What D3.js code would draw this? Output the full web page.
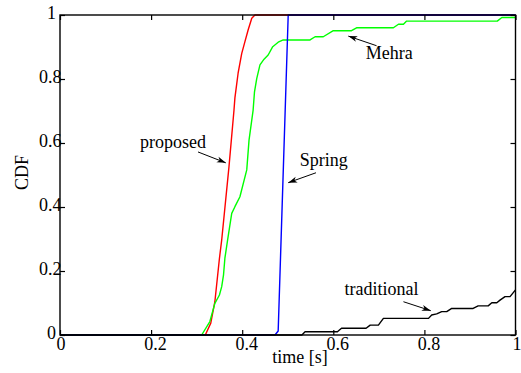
<!DOCTYPE html>
<html>
<head>
<meta charset="utf-8">
<script src="https://cdn.jsdelivr.net/npm/d3@7"></script>
<style>
  html, body { margin: 0; padding: 0; background: #fff; }
  svg { display: block; }
  svg text { font-family: "Liberation Serif", "Times New Roman", "DejaVu Serif", serif; fill: #000; }
</style>
</head>
<body>
<svg id="chart" width="521" height="373"></svg>
<script>
// CDF of completion time for four schemes (time in seconds)
const proposedT = [0, 0.319, 0.331, 0.340, 0.350, 0.355, 0.371, 0.382, 0.384, 0.391, 0.399, 0.406, 0.413, 0.421, 0.428, 1];
const proposedV = [0, 0, 0.037, 0.104, 0.239, 0.297, 0.526, 0.703, 0.741, 0.818, 0.880, 0.917, 0.953, 0.990, 1, 1];

const mehraT = [0, 0.311, 0.329, 0.340, 0.350, 0.355, 0.359, 0.362, 0.368, 0.377, 0.384, 0.395, 0.410, 0.415, 0.424, 0.427, 0.432, 0.439, 0.448, 0.457, 0.467, 0.479, 0.490, 0.549, 0.560, 0.578, 0.600, 0.640, 0.651, 0.732, 0.743, 0.754, 0.761, 0.960, 0.970, 1];
const mehraV = [0, 0, 0.042, 0.099, 0.125, 0.151, 0.188, 0.240, 0.297, 0.380, 0.401, 0.432, 0.516, 0.609, 0.703, 0.760, 0.802, 0.844, 0.862, 0.875, 0.901, 0.915, 0.922, 0.922, 0.932, 0.932, 0.951, 0.951, 0.960, 0.960, 0.971, 0.971, 0.981, 0.981, 0.992, 0.992];

const springT = [0, 0.472, 0.479, 0.501, 1];
const springV = [0, 0, 0.0125, 1, 1];

const traditionalT = [0, 0.531, 0.538, 0.609, 0.618, 0.672, 0.681, 0.699, 0.710, 0.809, 0.816, 0.827, 0.838, 0.849, 0.860, 0.907, 0.918, 0.940, 0.948, 0.959, 0.966, 0.977, 0.988, 1];
const traditionalV = [0, 0, 0.010, 0.010, 0.021, 0.021, 0.031, 0.031, 0.052, 0.052, 0.0625, 0.066, 0.073, 0.073, 0.083, 0.083, 0.091, 0.091, 0.101, 0.101, 0.109, 0.120, 0.120, 0.141];

const xTicks = [0, 0.2, 0.4, 0.6, 0.8, 1];
const yTicks = [0, 0.2, 0.4, 0.6, 0.8, 1];
const xTitle = "time [s]";
const yTitle = "CDF";

const series = [
  { name: "proposed", t: proposedT, v: proposedV, color: "#ff0000" },
  { name: "Mehra", t: mehraT, v: mehraV, color: "#00ff00" },
  { name: "Spring", t: springT, v: springV, color: "#0000ff" },
  { name: "traditional", t: traditionalT, v: traditionalV, color: "#000000" }
];

// Text callouts with arrows, placed in data units
const callouts = [
  { text: "proposed",    tx: 0.248, ty: 0.584, from: [0.303, 0.572], to: [0.364, 0.538] },
  { text: "Spring",      tx: 0.579, ty: 0.529, from: [0.562, 0.507], to: [0.501, 0.476] },
  { text: "Mehra",       tx: 0.723, ty: 0.862, from: [0.695, 0.904], to: [0.633, 0.934] },
  { text: "traditional", tx: 0.706, ty: 0.125, from: [0.754, 0.104], to: [0.814, 0.076] }
];

const FONT = '"Liberation Serif", "Times New Roman", serif';
const svg = d3.select("#chart");
const plotL = 60, plotR = 515.5, plotT = 15, plotB = 335;
const x = d3.scaleLinear().domain([0, 1]).range([plotL, plotR]);
const y = d3.scaleLinear().domain([0, 1]).range([plotB, plotT]);

const defs = svg.append("defs");
defs.append("marker")
  .attr("id", "head")
  .attr("markerUnits", "userSpaceOnUse")
  .attr("viewBox", "-10 -5 12 10")
  .attr("refX", 0).attr("refY", 0)
  .attr("markerWidth", 12).attr("markerHeight", 10)
  .attr("orient", "auto")
  .append("path")
  .attr("d", "M0,0 L-9,-3 L-6.5,0 L-9,3 Z")
  .attr("fill", "#000");

// Curves
const line = d3.line().x(d => x(d[0])).y(d => y(d[1]));
svg.append("g").selectAll("path")
  .data(series)
  .join("path")
  .attr("d", s => line(s.t.map((t, i) => [t, s.v[i]])))
  .attr("fill", "none")
  .attr("stroke", s => s.color)
  .attr("stroke-width", 1.4)
  .attr("stroke-linejoin", "round");

// Axes box with inward ticks on every side
const tickLen = 5;
const fmt = d3.format("");
const decimal = d => d > 0 && d < 1;

const gx = svg.append("g").attr("transform", `translate(0,${plotB})`)
  .call(d3.axisBottom(x).tickValues(xTicks).tickSizeInner(-tickLen).tickSizeOuter(0).tickPadding(2).tickFormat(fmt));
gx.selectAll("text").attr("dx", d => decimal(d) ? 4 : (d === 1 ? 1 : 0.5));

const gy = svg.append("g").attr("transform", `translate(${plotL},0)`)
  .call(d3.axisLeft(y).tickValues(yTicks).tickSizeInner(-tickLen).tickSizeOuter(0).tickPadding(4).tickFormat(fmt));
gy.selectAll("text").attr("dy", "0.17em").attr("dx", d => decimal(d) ? 5.5 : 0);

const gt = svg.append("g").attr("transform", `translate(0,${plotT})`)
  .call(d3.axisTop(x).tickValues(xTicks).tickSizeInner(-tickLen).tickSizeOuter(0).tickFormat(""));
const gr = svg.append("g").attr("transform", `translate(${plotR},0)`)
  .call(d3.axisRight(y).tickValues(yTicks).tickSizeInner(-tickLen).tickSizeOuter(0).tickFormat(""));

[gx, gy, gt, gr].forEach(g => {
  g.attr("font-family", FONT).attr("font-size", 18);
  g.select(".domain").remove();
  g.selectAll("line").attr("stroke", "#000").attr("stroke-width", 1.2);
});

svg.append("rect")
  .attr("x", plotL).attr("y", plotT)
  .attr("width", plotR - plotL).attr("height", plotB - plotT)
  .attr("fill", "none").attr("stroke", "#000").attr("stroke-width", 1.4);

// Axis titles
svg.append("text")
  .attr("x", 300).attr("y", 363)
  .attr("text-anchor", "middle").attr("font-size", 18).attr("font-family", FONT)
  .text(xTitle);
svg.append("text")
  .attr("transform", "translate(28,172.5) rotate(-90)")
  .attr("text-anchor", "middle").attr("font-size", 18).attr("font-family", FONT)
  .text(yTitle);

// Callouts
const cg = svg.append("g").attr("font-family", FONT);
callouts.forEach(c => {
  cg.append("text")
    .attr("x", x(c.tx)).attr("y", y(c.ty))
    .attr("text-anchor", "middle").attr("font-size", 18)
    .text(c.text);
  cg.append("line")
    .attr("x1", x(c.from[0])).attr("y1", y(c.from[1]))
    .attr("x2", x(c.to[0])).attr("y2", y(c.to[1]))
    .attr("stroke", "#000").attr("stroke-width", 1)
    .attr("marker-end", "url(#head)");
});
</script>
</body>
</html>
